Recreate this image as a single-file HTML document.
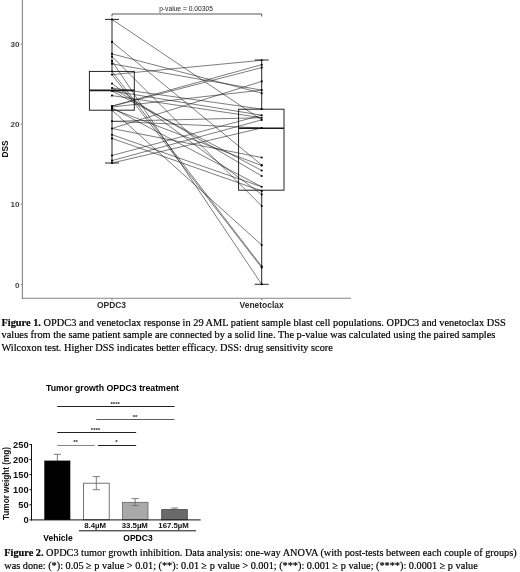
<!DOCTYPE html>
<html><head><meta charset="utf-8"><title>Figures</title>
<style>
html,body{margin:0;padding:0;background:#fff;}
body{width:520px;height:572px;position:relative;overflow:hidden;}
.cap{position:absolute;font-family:"Liberation Serif","Times New Roman",serif;font-size:10.3px;line-height:12.7px;color:#000;white-space:nowrap;margin:0;-webkit-text-stroke:0.18px #000;}
.cap b{font-weight:bold;}
</style></head><body>
<svg width="520" height="572" viewBox="0 0 520 572" style="position:absolute;left:0;top:0">
<g font-family="'Liberation Sans',sans-serif">
<!-- axes -->
<g stroke="#858585" stroke-width="1.1" fill="none">
<line x1="22.4" y1="0" x2="22.4" y2="298.8"/>
<line x1="21.8" y1="298.3" x2="351" y2="298.3"/>
<line x1="112" y1="298.3" x2="112" y2="300.2"/><line x1="261.7" y1="298.3" x2="261.7" y2="300.2"/>
<line x1="20.8" y1="44" x2="22.5" y2="44"/><line x1="20.8" y1="124" x2="22.5" y2="124"/><line x1="20.8" y1="204" x2="22.5" y2="204"/><line x1="20.8" y1="284.6" x2="22.5" y2="284.6"/>
</g>
<g font-size="8.1" font-weight="bold" fill="#444" text-anchor="end">
<text x="19.5" y="46.9">30</text><text x="19.5" y="126.9">20</text><text x="19.5" y="207">10</text><text x="19.5" y="287.6">0</text>
</g>
<text transform="translate(7.9,149) rotate(-90)" font-size="8.4" font-weight="bold" fill="#111" text-anchor="middle">DSS</text>
<g font-size="8.45" font-weight="bold" fill="#2a2a2a" text-anchor="middle">
<text x="111.5" y="307.5">OPDC3</text><text x="261.6" y="307.5">Venetoclax</text>
</g>
<!-- bracket -->
<path d="M112.0 16.5V14H261.7V16.5" stroke="#222" stroke-width="0.75" fill="none"/>
<text x="186" y="11.2" font-size="6.7" fill="#1a1a1a" text-anchor="middle">p-value = 0.00305</text>
<!-- boxes -->
<g stroke="#1a1a1a" stroke-width="0.95" fill="none">
<line x1="112.0" y1="19.4" x2="112.0" y2="71.4"/><line x1="112.0" y1="110.2" x2="112.0" y2="163"/>
<line x1="105" y1="19.4" x2="119" y2="19.4"/><line x1="105" y1="163" x2="119" y2="163"/>
<rect x="89.4" y="71.4" width="44.9" height="38.8"/>
<line x1="89.4" y1="90.4" x2="134.3" y2="90.4" stroke-width="1.6"/>
<line x1="261.7" y1="60" x2="261.7" y2="109.2"/><line x1="261.7" y1="190.2" x2="261.7" y2="284.3"/>
<line x1="254.7" y1="60" x2="268.7" y2="60"/><line x1="254.7" y1="284.3" x2="268.7" y2="284.3"/>
<rect x="238.6" y="109.2" width="45.4" height="81"/>
<line x1="238.7" y1="128.2" x2="284" y2="128.2" stroke-width="1.6"/>
</g>
<g stroke="#111" stroke-width="0.55" fill="none"><line x1="112.0" y1="19.4" x2="261.7" y2="119.9"/><line x1="112.0" y1="41.9" x2="261.7" y2="165"/><line x1="112.0" y1="53.85" x2="261.7" y2="93.2"/><line x1="112.0" y1="56.5" x2="261.7" y2="206"/><line x1="112.0" y1="61.15" x2="261.7" y2="284.3"/><line x1="112.0" y1="63.85" x2="261.7" y2="90.1"/><line x1="112.0" y1="71.5" x2="261.7" y2="266.4"/><line x1="112.0" y1="74.6" x2="261.7" y2="267.6"/><line x1="112.0" y1="74.6" x2="261.7" y2="60.3"/><line x1="112.0" y1="83.5" x2="261.7" y2="194.5"/><line x1="112.0" y1="88" x2="261.7" y2="109.1"/><line x1="112.0" y1="88" x2="261.7" y2="176"/><line x1="112.0" y1="91" x2="261.7" y2="115.2"/><line x1="112.0" y1="91" x2="261.7" y2="170.5"/><line x1="112.0" y1="95.6" x2="261.7" y2="117.7"/><line x1="112.0" y1="106" x2="261.7" y2="64.7"/><line x1="112.0" y1="106.3" x2="261.7" y2="67.6"/><line x1="112.0" y1="107" x2="261.7" y2="90.1"/><line x1="112.0" y1="108" x2="261.7" y2="186.8"/><line x1="112.0" y1="108.8" x2="261.7" y2="165.6"/><line x1="112.0" y1="110.2" x2="261.7" y2="245"/><line x1="112.0" y1="121.3" x2="261.7" y2="128"/><line x1="112.0" y1="121.3" x2="261.7" y2="117.7"/><line x1="112.0" y1="128.5" x2="261.7" y2="81.4"/><line x1="112.0" y1="128.5" x2="261.7" y2="157.5"/><line x1="112.0" y1="134.7" x2="261.7" y2="186.8"/><line x1="112.0" y1="138.4" x2="261.7" y2="190.9"/><line x1="112.0" y1="155.5" x2="261.7" y2="115.2"/><line x1="112.0" y1="160.6" x2="261.7" y2="119.9"/><line x1="112.0" y1="163" x2="261.7" y2="128"/></g>
<g fill="#000"><circle cx="112.0" cy="19.4" r="1.05"/><circle cx="112.0" cy="41.9" r="1.05"/><circle cx="112.0" cy="53.85" r="1.05"/><circle cx="112.0" cy="56.5" r="1.05"/><circle cx="112.0" cy="61.15" r="1.05"/><circle cx="112.0" cy="63.85" r="1.05"/><circle cx="112.0" cy="71.5" r="1.05"/><circle cx="112.0" cy="74.6" r="1.05"/><circle cx="112.0" cy="83.5" r="1.05"/><circle cx="112.0" cy="88" r="1.05"/><circle cx="112.0" cy="91" r="1.05"/><circle cx="112.0" cy="95.6" r="1.05"/><circle cx="112.0" cy="106" r="1.05"/><circle cx="112.0" cy="106.3" r="1.05"/><circle cx="112.0" cy="107" r="1.05"/><circle cx="112.0" cy="108" r="1.05"/><circle cx="112.0" cy="108.8" r="1.05"/><circle cx="112.0" cy="110.2" r="1.05"/><circle cx="112.0" cy="121.3" r="1.05"/><circle cx="112.0" cy="128.5" r="1.05"/><circle cx="112.0" cy="134.7" r="1.05"/><circle cx="112.0" cy="138.4" r="1.05"/><circle cx="112.0" cy="155.5" r="1.05"/><circle cx="112.0" cy="160.6" r="1.05"/><circle cx="112.0" cy="163" r="1.05"/><circle cx="261.7" cy="60.3" r="1.05"/><circle cx="261.7" cy="64.7" r="1.05"/><circle cx="261.7" cy="67.6" r="1.05"/><circle cx="261.7" cy="81.4" r="1.05"/><circle cx="261.7" cy="90.1" r="1.05"/><circle cx="261.7" cy="93.2" r="1.05"/><circle cx="261.7" cy="109.1" r="1.05"/><circle cx="261.7" cy="115.2" r="1.05"/><circle cx="261.7" cy="117.7" r="1.05"/><circle cx="261.7" cy="119.9" r="1.05"/><circle cx="261.7" cy="128" r="1.05"/><circle cx="261.7" cy="157.5" r="1.05"/><circle cx="261.7" cy="165" r="1.05"/><circle cx="261.7" cy="165.6" r="1.05"/><circle cx="261.7" cy="170.5" r="1.05"/><circle cx="261.7" cy="176" r="1.05"/><circle cx="261.7" cy="186.8" r="1.05"/><circle cx="261.7" cy="190.9" r="1.05"/><circle cx="261.7" cy="194.5" r="1.05"/><circle cx="261.7" cy="206" r="1.05"/><circle cx="261.7" cy="245" r="1.05"/><circle cx="261.7" cy="266.4" r="1.05"/><circle cx="261.7" cy="267.6" r="1.05"/><circle cx="261.7" cy="284.3" r="1.05"/></g>

<!-- bar chart -->
<text x="112.5" y="391" font-size="8.75" font-weight="bold" fill="#000" text-anchor="middle">Tumor growth OPDC3 treatment</text>
<g stroke="#222" stroke-width="1" fill="none">
<line x1="57.2" y1="406.5" x2="174.5" y2="406.5"/>
<line x1="96.4" y1="419.5" x2="174.5" y2="419.5" stroke="#333" stroke-width="0.8"/>
<line x1="57.2" y1="432.5" x2="136.2" y2="432.5"/>
<line x1="57.2" y1="445.5" x2="94.8" y2="445.5" stroke="#666" stroke-width="0.8"/>
<line x1="97.8" y1="445.5" x2="136.2" y2="445.5"/>
</g>
<g font-size="6" font-weight="bold" fill="#222" text-anchor="middle">
<text x="115.2" y="405.5">****</text><text x="135" y="418.5">**</text><text x="95.5" y="431.5">****</text><text x="75.6" y="444.3">**</text><text x="116.3" y="444.3">*</text>
</g>
<!-- error bars -->
<g stroke="#6e6e6e" stroke-width="0.9" fill="none">
<path d="M57.4 454.3V466M53.8 454.3H61"/>
<path d="M96.3 476.6V489.7M92.7 476.6H99.9M92.7 489.7H99.9"/>
<path d="M135.2 498.6V505.5M131.6 498.6H138.8M131.6 505.5H138.8"/>
<path d="M174.5 508V510.8M170.9 508H178.1"/>
</g>
<rect x="44.3" y="460.6" width="26" height="59.4" fill="#000"/>
<rect x="83.6" y="483.2" width="25.6" height="36.6" fill="#fff" stroke="#555" stroke-width="0.8"/>
<path d="M96.3 483.2V489.7M92.7 489.7H99.9" stroke="#6e6e6e" stroke-width="0.9"/>
<rect x="122.4" y="502.3" width="25.6" height="17.5" fill="#a9a9a9" stroke="#666" stroke-width="0.8"/>
<path d="M135.2 502V505.5M131.6 505.5H138.8" stroke="#6e6e6e" stroke-width="0.9"/>
<rect x="161.7" y="509.6" width="25.6" height="10.2" fill="#6a6a6a" stroke="#444" stroke-width="0.8"/>
<g stroke="#111" stroke-width="1" fill="none">
<line x1="31.5" y1="444" x2="31.5" y2="520.4"/>
<line x1="31" y1="519.9" x2="200.7" y2="519.9"/>
<path d="M29.5 444.5H31.5M29.5 459.6H31.5M29.5 474.6H31.5M29.5 489.7H31.5M29.5 504.8H31.5M29.5 519.9H31.5"/>
<line x1="79" y1="530.8" x2="196" y2="530.8"/>
</g>
<g font-size="9.3" font-weight="bold" fill="#111" text-anchor="end">
<text x="28.6" y="447.5">250</text><text x="28.6" y="462.6">200</text><text x="28.6" y="477.6">150</text><text x="28.6" y="492.7">100</text><text x="28.6" y="507.8">50</text><text x="28.6" y="523.2">0</text>
</g>
<text transform="translate(9.2,483.5) rotate(-90)" font-size="8.2" font-weight="bold" fill="#111" text-anchor="middle">Tumor weight (mg)</text>
<g font-size="7.8" font-weight="bold" fill="#111" text-anchor="middle">
<text x="95.2" y="528.3">8.4µM</text><text x="134.8" y="528.3">33.5µM</text><text x="173.6" y="528.3">167.5µM</text>
</g>
<g font-size="8.5" font-weight="bold" fill="#000" text-anchor="middle">
<text x="58" y="540.5">Vehicle</text><text x="138" y="540.5">OPDC3</text>
</g>
</g>
</svg>
<p class="cap" id="c1" style="left:1.5px;top:316.5px;font-size:10.35px"><b>Figure 1.</b> OPDC3 and venetoclax response in 29 AML patient sample blast cell populations. OPDC3 and venetoclax DSS<br>values from the same patient sample are connected by a solid line. The p-value was calculated using the paired samples<br>Wilcoxon test. Higher DSS indicates better efficacy. DSS: drug sensitivity score</p>
<p class="cap" id="c2" style="left:4.3px;top:547.3px;font-size:10.27px"><b>Figure 2.</b> OPDC3 tumor growth inhibition. Data analysis: one-way ANOVA (with post-tests between each couple of groups)<br>was done: (*): 0.05 ≥ p value &gt; 0.01; (**): 0.01 ≥ p value &gt; 0.001; (***): 0.001 ≥ p value; (****): 0.0001 ≥ p value</p>
</body></html>
